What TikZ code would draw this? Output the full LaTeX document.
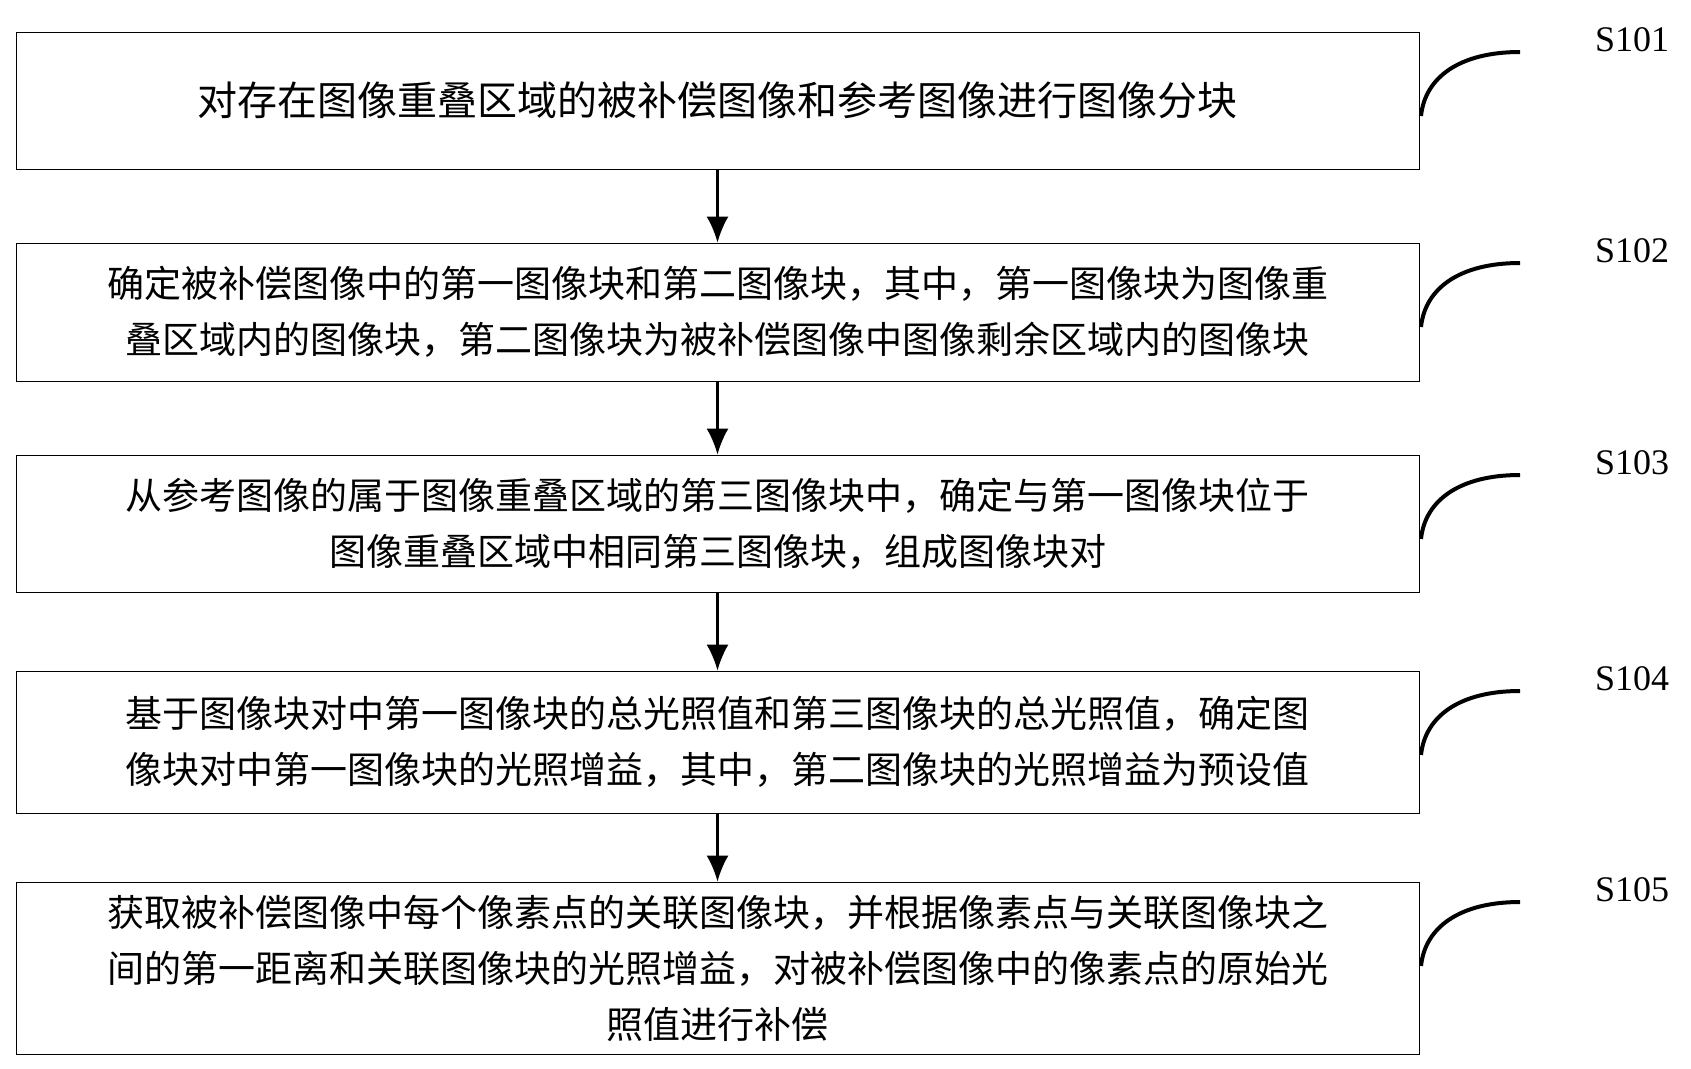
\documentclass[tikz,border=0pt]{standalone}
\usepackage{fontspec}
\setmainfont{Liberation Serif}
\newfontfamily\cjk{Noto Sans CJK SC}
\usetikzlibrary{arrows.meta}
\begin{document}
\begin{tikzpicture}[x=1pt,y=-1pt,
  stepbox/.style={draw,thick,minimum width=1403pt,align=center,inner sep=0pt,font=\cjk\fontsize{37}{56}\selectfont},
  lbl/.style={font=\fontsize{36}{40}\selectfont,anchor=north west,inner sep=0pt},
  arr/.style={-{Latex[length=26pt,width=22pt]},line width=2.5pt}]
\useasboundingbox (0,0) rectangle (1691,1068);
\node[stepbox,minimum height=137pt,font=\cjk\fontsize{40}{56}\selectfont] (s1) at (717.5,100.5) {对存在图像重叠区域的被补偿图像和参考图像进行图像分块};
\node[stepbox,minimum height=138pt] (s2) at (717.5,312) {确定被补偿图像中的第一图像块和第二图像块，其中，第一图像块为图像重\\叠区域内的图像块，第二图像块为被补偿图像中图像剩余区域内的图像块};
\node[stepbox,minimum height=137pt] (s3) at (717.5,523.5) {从参考图像的属于图像重叠区域的第三图像块中，确定与第一图像块位于\\图像重叠区域中相同第三图像块，组成图像块对};
\node[stepbox,minimum height=142pt] (s4) at (717.5,742) {基于图像块对中第一图像块的总光照值和第三图像块的总光照值，确定图\\像块对中第一图像块的光照增益，其中，第二图像块的光照增益为预设值};
\node[stepbox,minimum height=172pt] (s5) at (717.5,968) {获取被补偿图像中每个像素点的关联图像块，并根据像素点与关联图像块之\\间的第一距离和关联图像块的光照增益，对被补偿图像中的像素点的原始光\\照值进行补偿};
\foreach \a/\b in {s1/s2,s2/s3,s3/s4,s4/s5}
  \draw[arr] (\a.south) -- (\b.north);
\foreach \s/\t/\n in {s1/32/S101,s2/243/S102,s3/455/S103,s4/671/S104,s5/882/S105}{
  \coordinate (c\s) at (1421,\t+84);
  \draw[line width=4pt] (c\s) .. controls (1425,\t+45) and (1460,\t+20) .. (1520,\t+20);
  \node[lbl] (l\s) at (1595,\t-5) {\n};
}
\end{tikzpicture}
\end{document}
